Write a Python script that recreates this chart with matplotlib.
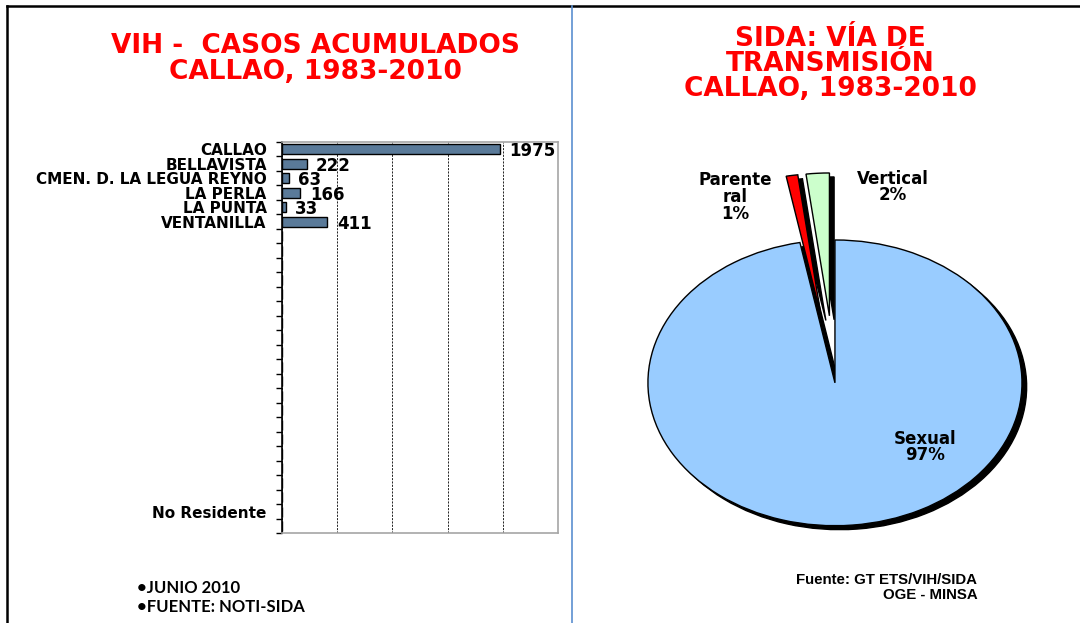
import numpy as np
import matplotlib.pyplot as plt
from matplotlib.lines import Line2D

# bar chart data (27 slots on the category axis, most of them empty)
districts = ['CALLAO', 'BELLAVISTA', 'CMEN. D. LA LEGUA REYNO', 'LA PERLA',
             'LA PUNTA', 'VENTANILLA'] + [''] * 19 + ['No Residente', '']
cases = [1975, 222, 63, 166, 33, 411] + [None] * 21

# pie data
routes = ['Sexual', 'Parente\nral', 'Vertical']
route_pct = [97, 1, 2]
route_colors = ['#99CCFF', '#FF0000', '#CCFFCC']
route_explode = [0, 0.47, 0.47]

plt.rcParams['font.family'] = ['DejaVu Sans']

fig = plt.figure(figsize=(10.8, 6.23), dpi=100)

# page frame
fig.add_artist(Line2D([0.0065, 1], [0.9904, 0.9904], color='black', lw=1.8))
fig.add_artist(Line2D([0.0065, 0.0065], [0, 0.9904], color='black', lw=1.8))
fig.add_artist(Line2D([0.5296, 0.5296], [0, 0.9904], color='#5B8FD0', lw=1.2))

# ---- left: bar chart ----
ax = fig.add_axes([0.2611, 0.1437, 0.2556, 0.6284])
ypos = np.arange(len(districts))
vals = [v if v is not None else 0 for v in cases]
ax.barh(ypos, vals, height=0.68, color='#5A7A99', edgecolor='black', lw=1, zorder=3)
for y, v in zip(ypos, cases):
    if v is not None:
        ax.text(v + 85, y + 0.15, str(v), va='center', ha='left',
                fontsize=12, fontweight='bold', zorder=4)

ax.set_xlim(0, 2500)
ax.set_ylim(len(districts) - 0.5, -0.5)
ax.set_xticks(np.arange(0, 2501, 500))
ax.set_xticklabels([])
ax.tick_params(axis='x', length=0)
ax.grid(axis='x', color='black', linestyle=(0, (2.5, 1.5)), lw=0.6, zorder=1)

ax.set_yticks(np.arange(len(districts) + 1) - 0.5)
ax.set_yticklabels([])
ax.tick_params(axis='y', which='major', length=4, width=1, color='black', direction='out')
ax.set_yticks(ypos, minor=True)
ax.set_yticklabels(districts, minor=True, fontsize=11, fontweight='bold')
ax.tick_params(axis='y', which='minor', length=0, pad=11)

for s in ['top', 'right', 'bottom']:
    ax.spines[s].set_color('#A6A6A6')
    ax.spines[s].set_linewidth(1.2)
ax.spines['left'].set_color('black')
ax.spines['left'].set_linewidth(1.2)

fig.text(0.2917, 0.905, 'VIH -  CASOS ACUMULADOS\nCALLAO, 1983-2010', color='#FF0000',
         fontsize=19, fontweight='bold', ha='center', va='center', linespacing=1.0)

fig.text(0.127, 0.056, '\u2022JUNIO 2010', family=['Lato', 'DejaVu Sans'],
         fontsize=12, fontweight='bold', va='center')
fig.text(0.127, 0.026, '\u2022FUENTE: NOTI-SIDA', family=['Lato', 'DejaVu Sans'],
         fontsize=12, fontweight='bold', va='center')

# ---- right: pie chart ----
ax2 = fig.add_axes([0.5537, 0.1493, 0.4324, 0.626])
wedges, _ = ax2.pie(route_pct, colors=route_colors, explode=route_explode,
                    startangle=90, counterclock=False,
                    wedgeprops=dict(edgecolor='black', linewidth=1),
                    shadow={'ox': 0.018, 'oy': -0.02, 'shade': 1.0, 'alpha': 1.0})
ax2.set_aspect('auto')
ax2.set_xlim(-1.267, 1.23)
ax2.set_ylim(-1.03, 1.70)
ax2.set_axis_on()
ax2.set_xticks([])
ax2.set_yticks([])
for s in ax2.spines.values():
    s.set_color('#808080')
    s.set_linewidth(1.3)

label_pos = [(0.700, 0.213), (0.293, 0.854), (0.632, 0.879)]
for name, pct, (lx, ly) in zip(routes, route_pct, label_pos):
    ax2.text(lx, ly, f'{name}\n{pct}%', transform=ax2.transAxes, ha='center',
             va='center', fontsize=12, fontweight='bold', linespacing=0.9)

fig.text(0.7685, 0.898, 'SIDA: V\u00cdA DE\nTRANSMISI\u00d3N\nCALLAO, 1983-2010',
         color='#FF0000', fontsize=19, fontweight='bold', ha='center', va='center',
         linespacing=0.95)

fig.text(0.905, 0.057, 'Fuente: GT ETS/VIH/SIDA\nOGE - MINSA',
         family=['Liberation Sans'], fontsize=10.8,
         fontweight='bold', ha='right', va='center', multialignment='right',
         linespacing=1.05)

fig.savefig('out.png', dpi=100)
